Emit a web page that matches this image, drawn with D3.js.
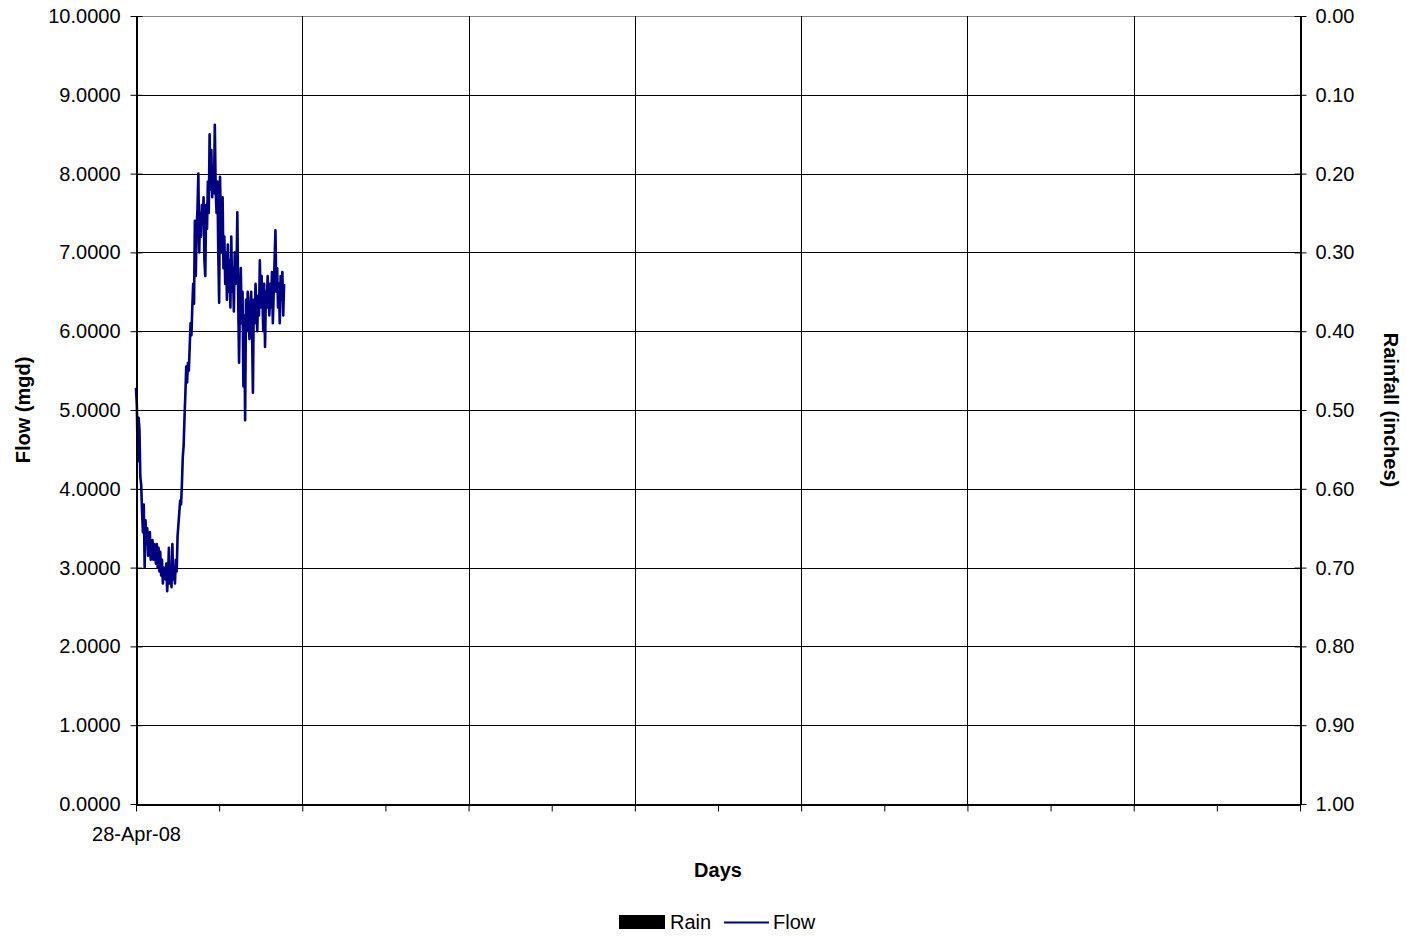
<!DOCTYPE html>
<html>
<head>
<meta charset="utf-8">
<script src="https://cdn.jsdelivr.net/npm/d3@7"></script>
<style>
  body { margin: 0; background: #fff; }
  text { font-family: Arial, "Liberation Sans", sans-serif; fill: #000; }
</style>
</head>
<body>
<div id="chart"></div>
<script>
// flow readings, 15-minute samples starting 28-Apr-08 00:00
const flowStart = new Date(2008, 3, 28);
const flowStepMinutes = 15;
const flowValues = [
  5.28, 5.05, 4.35, 4.9, 4.75, 4.15,
  4.05, 3.7, 3.45, 3.8, 3.0,
  3.6, 3.3, 3.5, 3.15, 3.2, 3.45, 3.1, 3.25, 3.35, 3.1, 3.3, 3.2, 3.05, 3.3, 3.0, 3.25, 2.95, 3.2,
  2.9, 3.1, 2.8, 3.0, 2.95, 2.85, 3.05, 2.7, 2.9, 3.25, 2.8, 2.95, 2.75, 3.3, 2.85, 3.0, 2.8, 3.1, 2.95,
  3.4, 3.55, 3.7, 3.85, 3.8, 4.05, 4.4, 4.55, 4.9, 5.2, 5.55, 5.35, 5.6,
  5.5, 5.8, 6.1, 5.95, 6.3, 6.6, 6.35, 7.4,
  6.7, 7.3, 7.55, 8.0, 7.0, 7.5, 7.2, 7.6, 7.35, 7.7, 6.9, 6.7,
  7.6, 7.3, 7.9, 7.5, 8.5, 7.8, 8.3, 7.7, 8.1, 7.75, 8.62, 7.8,
  7.5, 7.9, 7.0, 6.36, 7.96, 7.4, 7.0, 7.7, 6.8, 7.2, 6.6, 7.0, 6.4,
  7.1, 6.5, 6.9, 6.3, 7.2, 6.5, 6.8, 6.25, 7.0, 6.6, 6.7, 7.51, 6.4,
  5.6, 6.4, 6.8, 6.1, 6.5, 5.3, 6.2, 4.87, 6.4, 6.0, 6.5,
  6.2, 5.9, 6.3, 6.5, 6.0, 5.22, 6.4, 6.1, 6.6, 6.3, 6.0, 6.45, 6.2, 6.9, 6.3, 6.7,
  6.4, 6.0, 6.6, 5.8, 6.5, 6.3, 6.7, 6.4, 6.2, 6.6, 6.3, 6.75, 6.1, 6.5, 6.9,
  7.28, 6.5, 6.8, 6.3, 6.6, 6.1, 6.7, 6.4, 6.75, 6.2, 6.6
];

// daily rainfall (inches) - none recorded
const rainDays = ['2008-04-28', '2008-04-29'];
const rainValues = [0, 0];

const flowTicks = [0, 1, 2, 3, 4, 5, 6, 7, 8, 9, 10];
const rainTicks = [0, 0.1, 0.2, 0.3, 0.4, 0.5, 0.6, 0.7, 0.8, 0.9, 1.0];

const W = 1407, H = 938;
const margin = { top: 16, right: 107, bottom: 134, left: 136 };
const width = W - margin.left - margin.right;
const height = H - margin.top - margin.bottom;

const flow = flowValues.map((v, i) => ({
  t: new Date(flowStart.getTime() + i * flowStepMinutes * 60000), v: v
}));
const rain = rainDays.map((d, i) => ({ t: d3.timeParse('%Y-%m-%d')(d), v: rainValues[i] }));

const x = d3.scaleTime()
  .domain([flowStart, d3.timeDay.offset(flowStart, 14)])
  .range([0, width]);
const y = d3.scaleLinear().domain([0, 10]).range([height, 0]);
const yRain = d3.scaleLinear().domain([0, 1]).range([0, height]);

const svg = d3.select('#chart').append('svg')
  .attr('width', W).attr('height', H);
const g = svg.append('g').attr('transform', `translate(${margin.left},${margin.top})`);

const minorDays = d3.timeDay.range(x.domain()[0], d3.timeDay.offset(x.domain()[1], 1));
const majorDays = minorDays.filter((d, i) => i % 2 === 0);

// gridlines
g.append('g').selectAll('line').data(flowTicks).enter().append('line')
  .attr('x1', 0).attr('x2', width)
  .attr('y1', d => Math.round(y(d)) + 0.5).attr('y2', d => Math.round(y(d)) + 0.5)
  .attr('stroke', d => (d === 10 || d === 0) ? '#888' : '#000').attr('stroke-width', 1);
g.append('g').selectAll('line').data(majorDays).enter().append('line')
  .attr('x1', d => Math.round(x(d)) + 0.5).attr('x2', d => Math.round(x(d)) + 0.5)
  .attr('y1', 0).attr('y2', height)
  .attr('stroke', '#000').attr('stroke-width', 1);

// rain bars hang from the top (reversed axis)
g.append('g').selectAll('rect').data(rain).enter().append('rect')
  .attr('x', d => x(d.t)).attr('y', 0)
  .attr('width', x(d3.timeDay.offset(flowStart, 1)) - x(flowStart))
  .attr('height', d => yRain(d.v))
  .attr('fill', '#000');

// flow line
g.append('path').datum(flow)
  .attr('fill', 'none').attr('stroke', '#000080').attr('stroke-width', 2.6)
  .attr('stroke-linejoin', 'round')
  .attr('d', d3.line().x(d => x(d.t)).y(d => y(d.v)));

// left axis
const yAxis = g.append('g').attr('transform', 'translate(0.5,0)')
  .call(d3.axisLeft(y).tickValues(flowTicks).tickFormat(d3.format('.4f')).tickSize(6).tickSizeOuter(0));
yAxis.selectAll('.tick line').attr('x2', 6).attr('x1', -6);
yAxis.selectAll('.tick text').attr('x', -16);

// right axis
const rAxis = g.append('g').attr('transform', `translate(${width + 0.5},0)`)
  .call(d3.axisRight(yRain).tickValues(rainTicks).tickFormat(d3.format('.2f')).tickSize(6).tickSizeOuter(0));
rAxis.selectAll('.tick line').attr('x1', -6).attr('x2', 6);
rAxis.selectAll('.tick text').attr('x', 15);

// bottom axis
const xAxis = g.append('g').attr('transform', `translate(0,${height + 0.5})`)
  .call(d3.axisBottom(x).tickValues(minorDays).tickSize(7).tickSizeOuter(0)
    .tickFormat(d => +d === +flowStart ? d3.timeFormat('%d-%b-%y')(d) : ''));
xAxis.selectAll('.tick text').attr('y', 22);

[yAxis, rAxis, xAxis].forEach(a => {
  a.select('.domain').attr('stroke', '#000').attr('stroke-width', 2);
  a.selectAll('.tick line').attr('stroke', '#000');
  a.selectAll('text').style('font-size', '20px').style('font-family', 'Arial, "Liberation Sans", sans-serif');
});

// axis titles
svg.append('text')
  .attr('transform', 'translate(30,410) rotate(-90)')
  .attr('text-anchor', 'middle').style('font-size', '20px').style('font-weight', 'bold')
  .text('Flow (mgd)');
svg.append('text')
  .attr('transform', 'translate(1384,410) rotate(90)')
  .attr('text-anchor', 'middle').style('font-size', '20px').style('font-weight', 'bold')
  .text('Rainfall (inches)');
svg.append('text')
  .attr('x', 718).attr('y', 877)
  .attr('text-anchor', 'middle').style('font-size', '20px').style('font-weight', 'bold')
  .text('Days');

// legend
const legend = svg.append('g').attr('transform', 'translate(619,922)');
legend.append('rect').attr('x', 0).attr('y', -7).attr('width', 46).attr('height', 14).attr('fill', '#000');
legend.append('text').attr('x', 51).attr('y', 7).style('font-size', '20px').text('Rain');
legend.append('line').attr('x1', 105).attr('x2', 150).attr('y1', 0.5).attr('y2', 0.5)
  .attr('stroke', '#000080').attr('stroke-width', 2);
legend.append('text').attr('x', 154).attr('y', 7).style('font-size', '20px').text('Flow');
</script>
</body>
</html>
